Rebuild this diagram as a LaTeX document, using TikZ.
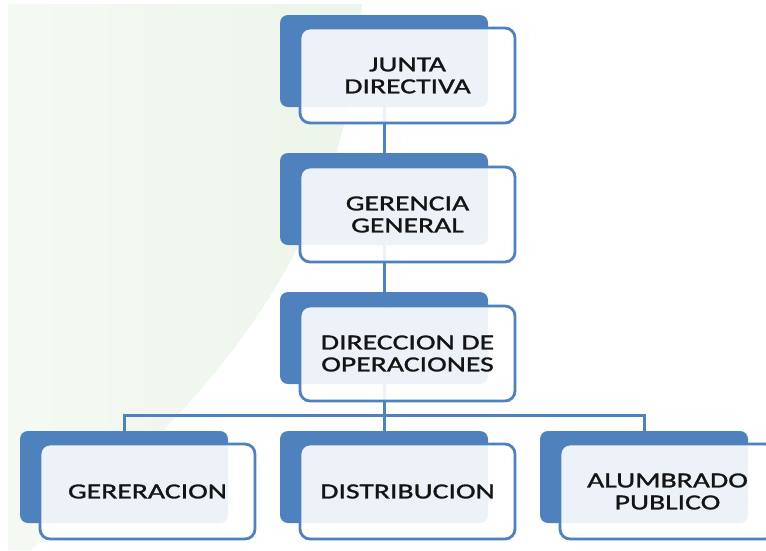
\documentclass[tikz,border=0pt]{standalone}
\usepackage{fontspec}
\setmainfont{Carlito}[FakeStretch=1.38,FakeBold=1.3]
\definecolor{sablue}{RGB}{79,129,189}
\definecolor{bgA}{RGB}{245,249,244}
\definecolor{bgB}{RGB}{236,245,234}
\definecolor{txt}{RGB}{20,20,20}
\begin{document}
\begin{tikzpicture}[x=1pt,y=-1pt,
  back/.style={draw=none,fill=sablue,rounded corners=8pt,minimum width=208pt,minimum height=92pt,inner sep=0pt},
  front/.style={draw=sablue,line width=2.8pt,fill=white,fill opacity=0.9,text opacity=1,rounded corners=10pt,
    minimum width=215pt,minimum height=95pt,inner sep=0pt,align=center,text=txt,
    font=\fontsize{21.5}{22}\selectfont},
  conn/.style={draw=sablue,line width=3pt}]
\useasboundingbox (0,0) rectangle (766,550);
\fill[white] (0,0) rectangle (766,550);
% background green shape
\shade[left color=bgA,right color=bgB] (8,4) -- (362,4) .. controls (350,230) and (230,390) .. (30,550) -- (8,550) -- cycle;
% back rectangles
\node[back] (b1) at (384,61) {};
\node[back] (b2) at (384,199) {};
\node[back] (b3) at (384,338) {};
\node[back] (b4l) at (124,477) {};
\node[back] (b4m) at (384,477) {};
\node[back] (b4r) at (644,477) {};
% connectors
\coordinate (j) at (384,415);
\draw[conn] (b1.south) -- (b2.north);
\draw[conn] (b2.south) -- (b3.north);
\draw[conn] (b3.south) -- (j);
\draw[conn] (b4l.north) |- (j) -| (b4r.north);
\draw[conn] (j) -- (b4m.north);
% front boxes
\node[front] (f1) at (407.5,75.5) {JUNTA\\DIRECTIVA};
\node[front] (f2) at (407.5,214.5) {GERENCIA\\GENERAL};
\node[front] (f3) at (407.5,353.5) {DIRECCION DE\\OPERACIONES};
\node[front] (f4l) at (147.5,491.5) {GERERACION};
\node[front] (f4m) at (407.5,491.5) {DISTRIBUCION};
\node[front] (f4r) at (667.5,491.5) {ALUMBRADO\\PUBLICO};
\end{tikzpicture}
\end{document}
